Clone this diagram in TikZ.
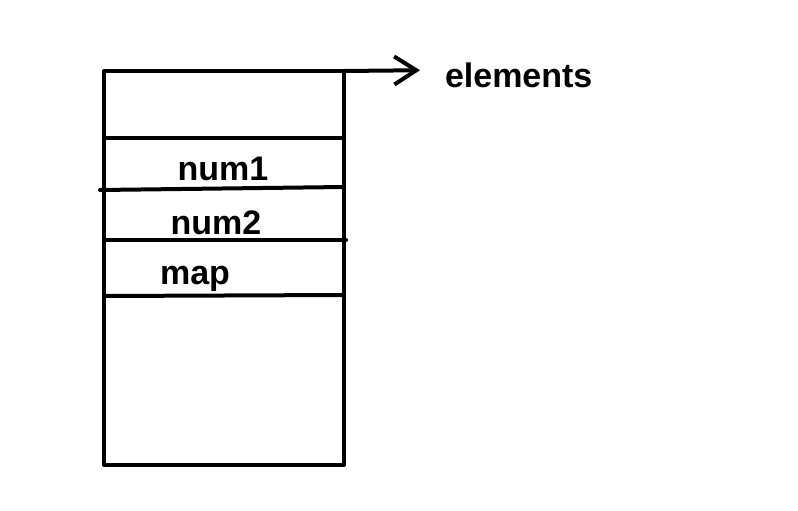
\documentclass[tikz,border=0pt]{standalone}
\usepackage{fontspec}
\setmainfont{Liberation Sans}[BoldFont={Liberation Sans Bold}]
\usetikzlibrary{arrows.meta}
\begin{document}
\begin{tikzpicture}[x=1pt, y=-1pt, line width=4pt, line join=round, line cap=round, font=\fontsize{34}{34}\selectfont\bfseries]
            \def\l{104}
            \def\r{344}
            \useasboundingbox (0,0) rectangle (798,511);
            \draw (\l,71) rectangle (\r,465);
            \draw (\l,138) -- (\r,138);
            \draw (100,190) -- (\r,187);
            \draw (\l,240) -- (346,240);
            \draw (\l,296) -- (\r,295);
            \coordinate (tr) at (\r,71);
            \node[anchor=west, inner sep=0pt] (elements) at (443,75) {elements};
            \node[inner sep=0pt] (num1) at (223,169) {num1};
            \node[inner sep=0pt] (num2) at (216,223) {num2};
            \node[inner sep=0pt] (map) at (195,279) {map};
            \draw[-{Straight Barb[length=22pt, width=28pt]}, shorten >=23pt] (tr) -- ([yshift=5pt]elements.west);
        \end{tikzpicture}
\end{document}
